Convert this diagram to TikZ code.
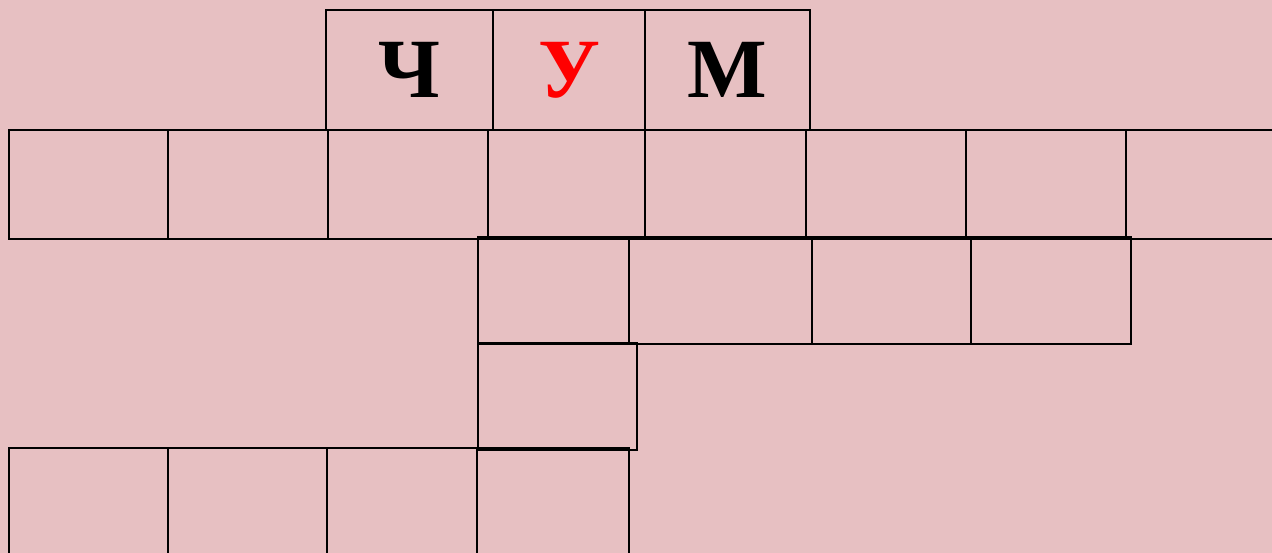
\documentclass[tikz,border=0pt]{standalone}
\usepackage{fontspec}
\setmainfont{Liberation Serif}
\usetikzlibrary{positioning}
\definecolor{rosebg}{RGB}{231,192,194}

\begin{document}
\begin{tikzpicture}[x=0.02cm, y=-0.02cm,
  cell/.style={draw, line width=1.5pt},
  letter/.style={font=\fontsize{48}{50}\selectfont\bfseries, inner sep=0pt}
]
\useasboundingbox (0,0) rectangle (1272,553);
\clip (0,0) rectangle (1272,553);
\fill [rosebg] (0,0) rectangle (1272,553);

% word row
\foreach \a/\b in {326/493,493/645,645/810} {
  \draw [cell] (\a,10) rectangle (\b,130);
}
\node [letter] (ch) at (409.5,70) {Ч};
\node [letter, text=red] (u) at (569,70) {У};
\node [letter] (m) at (727.5,70) {М};

% long row
\foreach \a/\b in {9/168,168/328,328/488,488/645,645/806,806/966,966/1126,1126/1300} {
  \draw [cell] (\a,130) rectangle (\b,239);
}

% middle rows
\foreach \a/\b in {478/629,629/812,812/971,971/1131} {
  \draw [cell] (\a,237) rectangle (\b,344);
}
\draw [cell] (478,343) rectangle (637,450);

% bottom row
\foreach \a/\b in {9/168,168/327,327/477,477/629} {
  \draw [cell] (\a,448) rectangle (\b,590);
}
\end{tikzpicture}
\end{document}
